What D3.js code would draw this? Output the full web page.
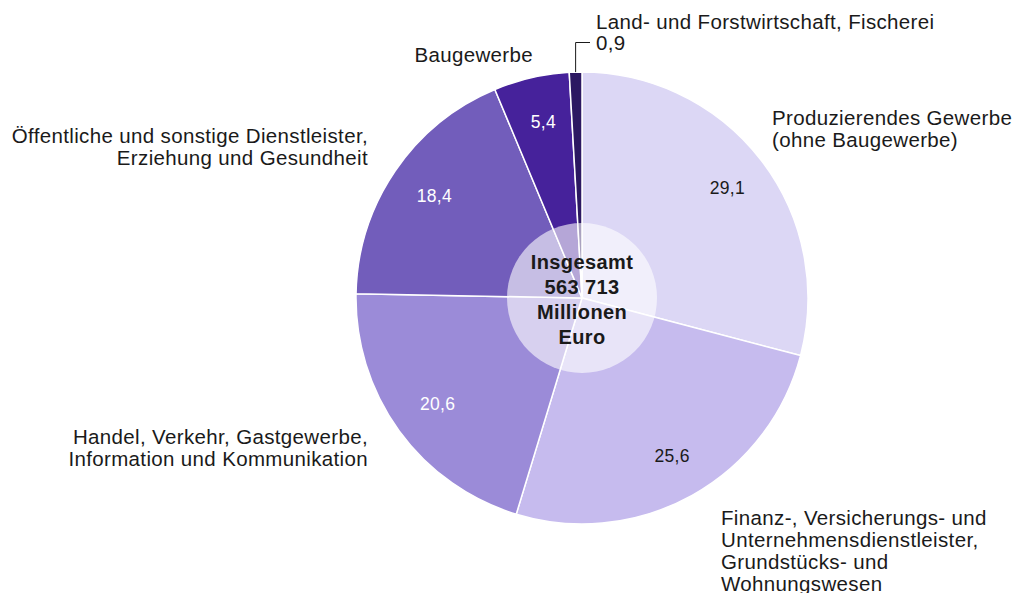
<!DOCTYPE html>
<html>
<head>
<meta charset="utf-8">
<script src="https://cdn.jsdelivr.net/npm/d3@7"></script>
<style>
  body { margin: 0; background: #fff; }
  svg text { font-family: "Liberation Sans", Arial, Helvetica, sans-serif; }
</style>
</head>
<body>
<div id="chart"></div>
<script>
// Data
const sectors = [
  "Produzierendes Gewerbe (ohne Baugewerbe)",
  "Finanz-, Versicherungs- und Unternehmensdienstleister, Grundstücks- und Wohnungswesen",
  "Handel, Verkehr, Gastgewerbe, Information und Kommunikation",
  "Öffentliche und sonstige Dienstleister, Erziehung und Gesundheit",
  "Baugewerbe",
  "Land- und Forstwirtschaft, Fischerei"
];
const shares = [29.1, 25.6, 20.6, 18.4, 5.4, 0.9];
const labelLines = [
  ["Produzierendes Gewerbe", "(ohne Baugewerbe)"],
  ["Finanz-, Versicherungs- und", "Unternehmensdienstleister,", "Grundstücks- und", "Wohnungswesen"],
  ["Handel, Verkehr, Gastgewerbe,", "Information und Kommunikation"],
  ["Öffentliche und sonstige Dienstleister,", "Erziehung und Gesundheit"],
  ["Baugewerbe"],
  ["Land- und Forstwirtschaft, Fischerei"]
];
const centerLines = ["Insgesamt", "563 713", "Millionen", "Euro"];

const colors = ["#dcd7f5", "#c6bbee", "#9b8bd8", "#725dbb", "#46229b", "#2c1862"];
const valueColors = ["#1a1a1a", "#1a1a1a", "#ffffff", "#ffffff", "#ffffff", "#1a1a1a"];

// Layout of outer labels: x, y of first baseline, anchor
const labelPos = [
  {x: 772, y: 125, anchor: "start"},
  {x: 721, y: 525, anchor: "start"},
  {x: 368, y: 444, anchor: "end"},
  {x: 368, y: 143, anchor: "end"},
  {x: 533, y: 62, anchor: "end"},
  {x: 596, y: 29, anchor: "start"}
];

const W = 1018, H = 593;
const cx = 582, cy = 298, R = 226;
const fmt = v => String(v).replace(".", ",");

const svg = d3.select("#chart").append("svg")
  .attr("width", W).attr("height", H);

const g = svg.append("g").attr("transform", `translate(${cx},${cy})`);

const pie = d3.pie().sort(null).value(d => d)(shares);
const arc = d3.arc().innerRadius(0).outerRadius(R);
const labelArc = d3.arc().innerRadius(181).outerRadius(181);

g.selectAll("path.slice")
  .data(pie)
  .join("path")
  .attr("class", "slice")
  .attr("d", arc)
  .attr("fill", (d, i) => colors[i])
  .attr("stroke", "#fff")
  .attr("stroke-width", 1.5);

// value labels inside slices (except the tiny one)
g.selectAll("text.val")
  .data(pie.filter((d, i) => i < 5))
  .join("text")
  .attr("class", "val")
  .attr("x", d => labelArc.centroid(d)[0] + 2)
  .attr("y", d => labelArc.centroid(d)[1] + 6)
  .attr("text-anchor", "middle")
  .attr("font-size", 17.5)
  .attr("letter-spacing", 0.3)
  .attr("fill", (d, i) => valueColors[i])
  .text(d => fmt(d.data));

// center circle
g.append("circle")
  .attr("r", 75)
  .attr("fill", "#ffffff")
  .attr("fill-opacity", 0.6);

g.append("text")
  .attr("text-anchor", "middle")
  .attr("font-size", 20)
  .attr("letter-spacing", 0.4)
  .attr("font-weight", "bold")
  .attr("fill", "#1a1a1a")
  .selectAll("tspan")
  .data(centerLines)
  .join("tspan")
  .attr("x", 0)
  .attr("y", (d, i) => -29 + i * 25)
  .text(d => d);

// outer labels
labelLines.forEach((lines, i) => {
  const p = labelPos[i];
  svg.append("text")
    .attr("text-anchor", p.anchor)
    .attr("font-size", 20.5)
    .attr("letter-spacing", 0.35)
    .attr("fill", "#1a1a1a")
    .selectAll("tspan")
    .data(lines)
    .join("tspan")
    .attr("x", p.x)
    .attr("y", (d, j) => p.y + j * 22)
    .text(d => d);
});

// leader for the small slice
const small = pie[5];
const mid = (small.startAngle + small.endAngle) / 2;
const sx = cx + R * Math.sin(mid), sy = cy - R * Math.cos(mid);
svg.append("polyline")
  .attr("points", `${sx},${sy} ${sx},42.5 590,42.5`)
  .attr("fill", "none")
  .attr("stroke", "#1a1a1a")
  .attr("stroke-width", 1);
svg.append("text")
  .attr("x", 596).attr("y", 50)
  .attr("font-size", 20.5)
  .attr("letter-spacing", 0.35)
  .attr("fill", "#1a1a1a")
  .text(fmt(shares[5]));
</script>
</body>
</html>
